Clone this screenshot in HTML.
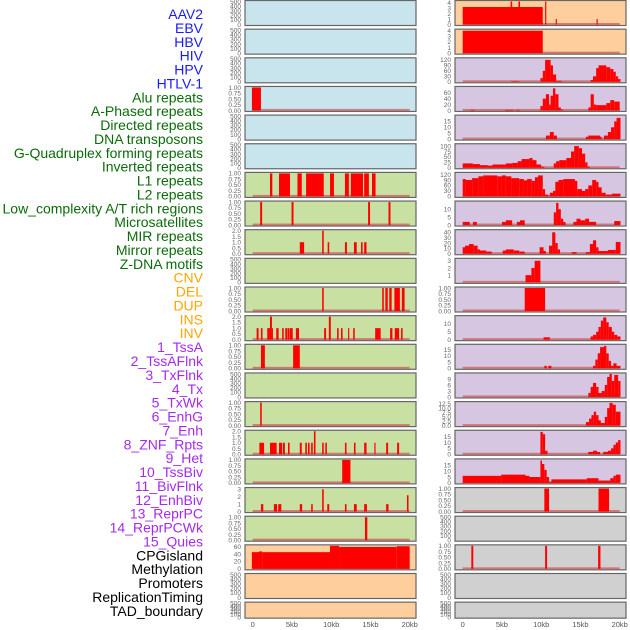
<!DOCTYPE html>
<html><head><meta charset="utf-8">
<style>
html,body{margin:0;padding:0;background:#fff;}
svg{display:block;font-family:"Liberation Sans",sans-serif;}
</style></head>
<body>
<svg id="chart" width="630" height="630" viewBox="0 0 630 630" xmlns="http://www.w3.org/2000/svg"></svg>
<script>
// ---- data ----
const trackLabels = ["AAV2","EBV","HBV","HIV","HPV","HTLV-1","Alu repeats","A-Phased repeats","Directed repeats","DNA transposons","G-Quadruplex forming repeats","Inverted repeats","L1 repeats","L2 repeats","Low_complexity A/T rich regions","Microsatellites","MIR repeats","Mirror repeats","Z-DNA motifs","CNV","DEL","DUP","INS","INV","1_TssA","2_TssAFlnk","3_TxFlnk","4_Tx","5_TxWk","6_EnhG","7_Enh","8_ZNF_Rpts","9_Het","10_TssBiv","11_BivFlnk","12_EnhBiv","13_ReprPC","14_ReprPCWk","15_Quies","CPGisland","Methylation","Promoters","ReplicationTiming","TAD_boundary"];
const labelGroups = [6,13,5,15,5];
const xTickValues = [0,5,10,15,20];
const xTickLabels = ["0","5kb","10kb","15kb","20kb"];

const T500 = ["0","100","200","300","400","500"];
const T1 = ["0.00","0.25","0.50","0.75","1.00"];
const T2 = ["0.0","0.5","1.0","1.5","2.0"];

const leftTicks = [T500,T500,T500,T1,T500,T500,T1,T1,T2,T500,T1,T2,T1,T500,T1,T2,T1,["0","1","2","3"],T1,["0","20","40","60"],T500,T500];
const leftYMax = [500,500,500,1,500,500,1,1,2,500,1,2,1,500,1,2,1,3.1,1,62,500,500];
const rightTicks = [["0","1","2","3","4"],["0","1","2","3","4"],["0","30","60","90","120"],["0","20","40","60"],["0","5","10","15"],["0","25","50","75","100"],["0","30","60","90","120"],["0","5","10"],["0","10","20","30","40"],["1","2","3"],T1,["0","5","10"],["0","5","10","15"],["0","3","6","9"],["0.0","2.5","5.0","7.5","10.0","12.5"],["0","5","10","15"],["0","5","10","15"],T1,T500,T1,T500,T500];
const rightTickVals = [[0,1,2,3,4],[0,1,2,3,4],[0,30,60,90,120],[0,20,40,60],[0,5,10,15],[0,25,50,75,100],[0,30,60,90,120],[0,5,10],[0,10,20,30,40],[1,2,3],[0,.25,.5,.75,1],[0,5,10],[0,5,10,15],[0,3,6,9],[0,2.5,5,7.5,10,12.5],[0,5,10,15],[0,5,10,15],[0,.25,.5,.75,1],[0,100,200,300,400,500],[0,.25,.5,.75,1],[0,100,200,300,400,500],[0,100,200,300,400,500]];
const rightYMax = [4.2,4.1,126,78,19.5,106,126,14.5,43,3.2,1,14.5,18.5,11.5,13.2,19.5,19.5,1,500,1,500,500];

// segments [startKb, endKb, value]
const L3 = [[-0.1,1.05,1]];
const L6 = [[2.2,2.5,1],[3.35,4.75,1],[5.7,6.25,1],[6.8,9.05,1],[9.85,10.35,1],[11.75,12.25,1],[12.5,14.05,1],[14.2,14.8,1],[15.2,15.65,1]];
const L7 = [[0.95,1.2,1],[4.95,5.2,1],[14.7,14.95,1],[17.3,17.55,1]];
const L8 = [[6.0,6.55,1],[8.85,9.05,2],[9.55,9.75,1],[11.75,12.0,1],[12.9,13.25,1],[13.8,14.0,1],[14.2,14.5,1]];
const L10 = [[8.85,9.05,1],[16.5,16.7,1],[16.9,17.2,1],[17.4,17.7,1],[18.05,18.75,1],[19.0,19.35,1]];
const L11 = [[0.5,0.75,1],[1.05,1.25,1],[1.85,2.2,1],[2.2,2.45,2],[2.45,2.55,1],[3.0,3.3,1],[3.75,3.95,1],[4.15,4.4,1],[4.45,4.7,1],[4.75,5.1,1],[5.5,5.9,1],[9.1,9.35,1],[9.7,9.95,2],[10.75,10.95,1],[11.25,11.45,1],[12.15,12.3,1],[12.8,13.0,1],[15.6,16.3,1],[17.5,17.8,1],[18.1,18.65,1],[18.9,19.1,1]];
const L12 = [[1.05,1.55,1],[5.15,6.0,1]];
const L14 = [[0.95,1.15,1]];
const L15 = [[0.85,1.45,1],[2.2,3.05,1],[3.35,3.75,1],[3.85,4.1,1],[4.5,4.7,1],[6.0,6.25,1],[6.7,6.9,1],[7.05,7.25,1],[7.45,7.65,1],[7.8,8.0,2],[8.85,9.05,1],[9.25,9.45,1],[11.75,11.95,1],[12.9,13.1,1],[14.2,14.5,1],[15.5,15.65,1],[17.0,17.25,1],[18.4,18.65,1]];
const L16 = [[11.4,12.45,1]];
const L17 = [[1.05,1.35,1],[2.7,3.1,1],[3.25,3.65,1],[6.0,6.3,1],[7.45,7.65,1],[8.85,9.05,3],[9.5,9.75,1],[11.75,11.95,1],[12.9,13.25,1],[14.2,14.55,1],[17.0,17.3,1],[19.65,19.85,2.2]];
const L18 = [[14.3,14.6,1]];
const L19 = [[-0.1,0.8,45],[0.8,1.2,47],[1.2,9.85,45],[9.85,11.0,62],[11.0,18.35,59],[18.35,20.0,61]];

const R0 = [[0,10.2,3.2],[6.1,6.3,5],[7.1,7.3,5],[10.5,10.65,5],[11.85,12.0,1],[17.05,17.2,1]];
const R1 = [[0,10.2,4]];
const R2 = [[6.2,7.2,3],[9.9,10.2,20],[10.2,10.5,60],[10.5,11.2,120],[11.2,11.5,90],[11.5,11.9,40],[11.9,12.6,5],[16.3,16.6,10],[16.6,17.0,30],[17.0,17.3,75],[17.3,18.3,90],[18.3,18.8,80],[18.8,19.2,70],[19.2,19.5,55],[19.5,19.8,30],[19.8,20.1,15]];
const R3 = [[1.0,1.5,2],[5.4,6.5,2],[6.8,7.3,2],[9.9,10.2,15],[10.2,10.6,40],[10.6,11.0,55],[11.0,11.2,20],[11.2,11.5,50],[11.5,11.8,75],[11.8,12.2,55],[12.2,12.5,10],[12.5,12.8,3],[16.0,16.3,10],[16.3,16.7,55],[16.7,17.0,20],[17.0,18.3,18],[18.3,18.8,25],[18.8,19.3,35],[19.3,20.0,30]];
const R4 = [[10.6,11.1,3],[11.1,11.6,6],[11.6,12.0,3],[15.7,16.0,2],[16.0,17.5,3],[17.5,17.7,2],[18.0,18.5,3],[18.5,18.9,6],[18.9,19.3,10],[19.3,19.6,15],[19.6,20.1,18]];
const R5 = [[0,1.3,20],[1.3,2.2,17],[2.2,3.2,12],[3.2,3.8,10],[3.8,5.5,15],[5.5,6.3,20],[6.3,7.0,22],[7.0,7.5,30],[7.5,8.5,40],[8.5,8.9,45],[8.9,9.4,35],[9.4,10.0,15],[10.0,10.4,5],[11.6,11.9,20],[11.9,12.3,30],[12.3,13.2,35],[13.2,13.8,45],[13.8,14.2,75],[14.2,14.8,100],[14.8,15.2,90],[15.2,15.6,65],[15.6,15.9,25],[15.9,16.2,5]];
const R6 = [[0,0.4,95],[0.4,1.2,90],[1.2,2.0,100],[2.0,2.6,110],[2.6,4.4,115],[4.4,5.0,110],[5.0,5.5,115],[5.5,6.2,110],[6.2,7.2,100],[7.2,7.8,95],[7.8,8.2,88],[8.2,8.8,95],[8.8,9.2,85],[9.2,9.6,105],[9.6,10.2,115],[10.2,10.5,40],[10.5,10.9,10],[10.9,11.1,2],[11.1,11.5,20],[11.5,11.8,30],[11.8,12.2,80],[12.2,12.8,90],[12.8,14.3,95],[14.3,14.6,85],[14.6,15.2,40],[15.2,15.6,30],[15.6,16.0,40],[16.0,16.5,60],[16.5,17.0,90],[17.0,17.3,80],[17.3,17.7,50],[17.7,18.2,20],[18.2,19.0,10],[19.0,20.1,15]];
const R7 = [[0,0.9,2],[1.3,1.8,2],[5.0,5.5,2],[5.5,6.3,3],[6.9,7.3,2],[7.3,7.9,3],[11.6,11.9,8],[11.9,12.2,14],[12.2,12.5,10],[12.5,12.8,4],[12.8,13.1,2],[14.1,14.5,2],[14.5,15.0,4],[15.0,15.6,3],[15.6,16.1,4],[16.1,17.0,2],[19.3,20.1,2.5]];
const R8 = [[0,0.3,12],[0.3,0.8,15],[0.8,1.4,18],[1.4,1.9,15],[1.9,2.2,8],[2.2,3.0,6],[3.0,3.7,4],[5.1,5.5,6],[5.5,6.5,8],[6.5,7.2,6],[7.2,7.9,4],[9.8,10.3,12],[10.3,10.6,5],[11.0,11.4,15],[11.4,11.8,40],[11.8,12.1,20],[12.1,12.4,8],[13.9,14.5,3],[15.7,16.2,3],[16.2,16.6,18],[16.6,17.0,25],[17.0,17.3,12],[17.3,18.5,5],[18.5,19.5,7],[19.5,20.1,22]];
const R9 = [[8.0,8.75,1],[8.75,9.17,2],[9.17,9.9,3]];
const R10 = [[7.9,10.5,1]];
const R11 = [[10.3,11.1,1.5],[16.3,16.6,2],[16.6,17.0,3],[17.0,17.3,5],[17.3,17.6,8],[17.6,17.9,12],[17.9,18.3,14],[18.3,18.6,11],[18.6,19.0,8],[19.0,19.3,5],[19.3,19.7,3],[19.7,20.1,2]];
const R12 = [[10.4,10.7,2],[10.9,11.3,2],[16.6,16.9,2],[16.9,17.2,7],[17.2,17.5,12],[17.5,18.0,17],[18.0,18.3,18],[18.3,18.6,12],[18.6,18.9,6],[18.9,19.2,2],[19.2,19.6,4],[19.6,20.1,2]];
const R13 = [[16.0,16.3,2],[16.3,16.6,5],[16.6,17.0,7],[17.0,17.3,5],[17.3,17.7,2],[17.7,18.1,3],[18.1,18.4,6],[18.4,18.7,10],[18.7,19.0,12],[19.0,19.3,8],[19.3,19.8,11],[19.8,20.1,8]];
const R14 = [[15.7,16.1,2],[16.1,16.4,4],[16.4,16.7,6],[16.7,17.0,8],[17.0,17.3,6],[17.3,17.6,3],[17.6,18.1,1.5],[18.1,18.4,5],[18.4,18.7,10],[18.7,19.1,13],[19.1,19.5,12],[19.5,20.1,8]];
const R15 = [[9.9,10.2,19],[10.2,10.5,17],[10.5,10.8,3],[16.0,16.6,2],[16.6,17.1,3],[17.1,17.5,2],[17.9,18.5,2],[18.5,18.9,3],[18.9,19.2,5],[19.2,19.5,8],[19.5,19.8,10],[19.8,20.1,12]];
const R16 = [[0,4.9,6],[4.9,8.0,7],[8.0,8.5,6],[8.5,9.9,5],[9.9,10.1,19],[10.1,10.4,16],[10.4,10.7,11],[10.7,11.0,5],[11.0,11.3,1],[11.3,15.8,3],[15.8,17.3,4],[17.3,18.8,2],[18.8,19.2,4],[19.2,19.5,6],[19.5,20.1,7]];
const R17 = [[10.4,11.0,1],[17.3,18.65,1]];
const R19 = [[1.1,1.35,1],[10.5,10.75,1],[17.25,17.55,1]];

const leftSegs = [[],[],[],L3,[],[],L6,L7,L8,[],L10,L11,L12,[],L14,L15,L16,L17,L18,L19,[],[]];
const rightSegs = [R0,R1,R2,R3,R4,R5,R6,R7,R8,R9,R10,R11,R12,R13,R14,R15,R16,R17,[],R19,[],[]];

// ---- drawing ----
const NS = "http://www.w3.org/2000/svg";
const svg = document.getElementById("chart");
function mk(tag, attrs, parent){
  const e = document.createElementNS(NS, tag);
  for (const k in attrs) e.setAttribute(k, attrs[k]);
  (parent||svg).appendChild(e);
  return e;
}
const labelColors = ["#1a1aff","#0b6b0b","#ffa500","#a52af0","#000000"];
let li = 0;
labelGroups.forEach((n, g) => {
  for (let j = 0; j < n; j++, li++) {
    const t = mk("text", {x: 203, y: 19 + li*13.88, "text-anchor": "end", "font-size": 14, fill: labelColors[g]});
    
    
    t.textContent = trackLabels[li];
  }
});

const leftBg = k => k < 6 ? "#c8e4ec" : (k < 19 ? "#c9e0a3" : "#fecf9d");
const rightBg = k => k < 2 ? "#fecf9d" : (k < 17 ? "#d7c6e2" : "#d0d0d0");
const panels = [{x0: 245, x1: 416, zero: 252.7, segs: leftSegs, ticks: leftTicks, ymax: leftYMax, bg: leftBg, name: "left"},
                {x0: 455, x1: 626, zero: 462.7, segs: rightSegs, ticks: rightTicks, ymax: rightYMax, bg: rightBg, name: "right"}];
const pxPerKb = 7.85;

panels.forEach(p => {
  const xs = kb => p.zero + kb*pxPerKb;
  for (let k = 0; k < 22; k++) {
    const top = k*28.65 + 0.5;
    const h = k === 21 ? 16 : 25;
    const ys = v => top + h - 1 - Math.min(v, p.ymax[k]*1.0)/p.ymax[k]*(h - 2);
    const g = mk("g", {});
    
    
    mk("rect", {x: p.x0, y: top, width: p.x1 - p.x0, height: h, fill: p.bg(k), stroke: "#666", "stroke-width": 1.2}, g);
    const segs = p.segs[k];
    if (segs.length) {
      const base = mk("rect", {x: xs(0), y: ys(0) - 1.5, width: xs(20) - xs(0), height: 2, fill: "#d06060", opacity: 0.8}, g);
      
      
    }
    segs.forEach(s => {
      const y = ys(s[2]);
      const r = mk("rect", {x: xs(s[0]), y: y, width: Math.max(1, xs(s[1]) - xs(s[0])), height: ys(0) - y, fill: "#ff0000"}, g);
      
      
    });
    const labs = p.ticks[k];
    let vals;
    if (p.name === "right") vals = rightTickVals[k];
    else vals = labs.map(Number);
    labs.forEach((lab, i) => {
      const t = mk("text", {x: p.x0 - 4, y: ys(vals[i]) + 2.3, "text-anchor": "end", "font-size": 6.5, fill: "#666"}, g);
      
      
      t.textContent = lab;
    });
  }
  xTickValues.forEach((v, i) => {
    const t = mk("text", {x: xs(v), y: 627, "text-anchor": "middle", "font-size": 7.5, fill: "#555"});
    
    
    t.textContent = xTickLabels[i];
  });
});
</script>
</body></html>
